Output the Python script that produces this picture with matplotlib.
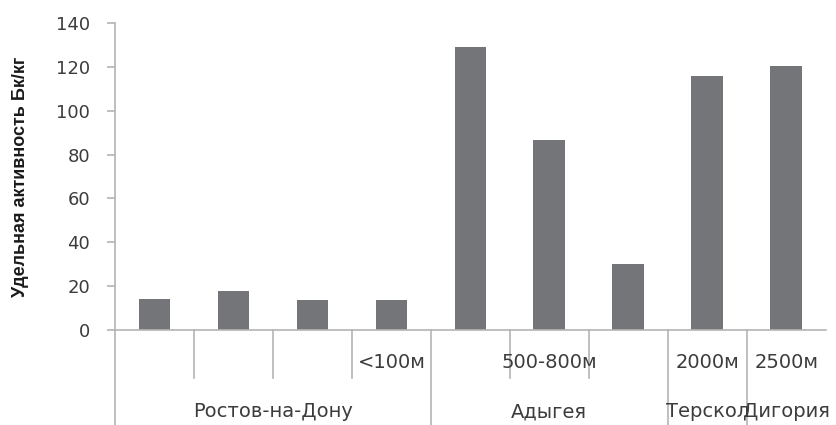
import numpy as np
import matplotlib.pyplot as plt
from matplotlib.transforms import blended_transform_factory

# values
values = [14, 18, 13.5, 13.5, 129, 86.5, 30, 116, 120.5]
inner_labels = ['', '', '', '<100м', '', '500-800м', '', '2000м', '2500м']
groups = ['Ростов-на-Дону'] * 4 + ['Адыгея'] * 3 + ['Терскол', 'Дигория']
yticks = [0, 20, 40, 60, 80, 100, 120, 140]

axis_col = '#b4b4b4'
text_col = '#3c3c3c'

fig = plt.figure(figsize=(8.36, 4.25), dpi=100)
ax = fig.add_axes([0.1376, 0.2235, 0.850, 0.7224])

x = np.arange(len(values))
ax.bar(x, values, width=0.4, color='#747579')

ax.set_xlim(-0.5, len(values) - 0.5)
ax.set_ylim(0, 140)
ax.set_yticks(yticks)
ax.tick_params(axis='y', colors=axis_col, length=6, width=1.2,
               labelcolor=text_col, labelsize=13, pad=12)
ax.set_xticks([])
for s in ['top', 'right']:
    ax.spines[s].set_visible(False)
ax.spines['left'].set_color(axis_col)
ax.spines['bottom'].set_color(axis_col)
ax.spines['left'].set_linewidth(1.2)
ax.spines['bottom'].set_linewidth(1.2)

ax.set_ylabel('Удельная активность Бк/кг', fontsize=13, fontweight='bold',
              color='#1a1a1a', family=['Liberation Sans Narrow', 'Liberation Sans'])
ax.yaxis.set_label_coords(-0.121, 0.5)

tr = blended_transform_factory(ax.transData, ax.transAxes)
bottom = -0.32
short = -0.156

# left axis extends down through the category area
ax.plot([-0.5, -0.5], [0, bottom], transform=tr, color=axis_col, lw=1.2, clip_on=False)

# separator lines between categories
for i in range(1, len(values)):
    b = i - 0.5
    if groups[i] != groups[i - 1]:
        ax.plot([b, b], [0, bottom], transform=tr, color=axis_col, lw=1.2, clip_on=False)
    else:
        ax.plot([b, b], [0, short], transform=tr, color=axis_col, lw=1.2, clip_on=False)

# inner labels
for i, lab in enumerate(inner_labels):
    if lab:
        ax.text(i, -0.107, lab, transform=tr, ha='center', va='center',
                fontsize=14, color=text_col)

# group labels
names = []
for g in groups:
    if g not in names:
        names.append(g)
for g in names:
    idx = [i for i, gg in enumerate(groups) if gg == g]
    ax.text(np.mean(idx), -0.267, g, transform=tr, ha='center', va='center',
            fontsize=14, color=text_col)

fig.savefig('out.png', dpi=100)
